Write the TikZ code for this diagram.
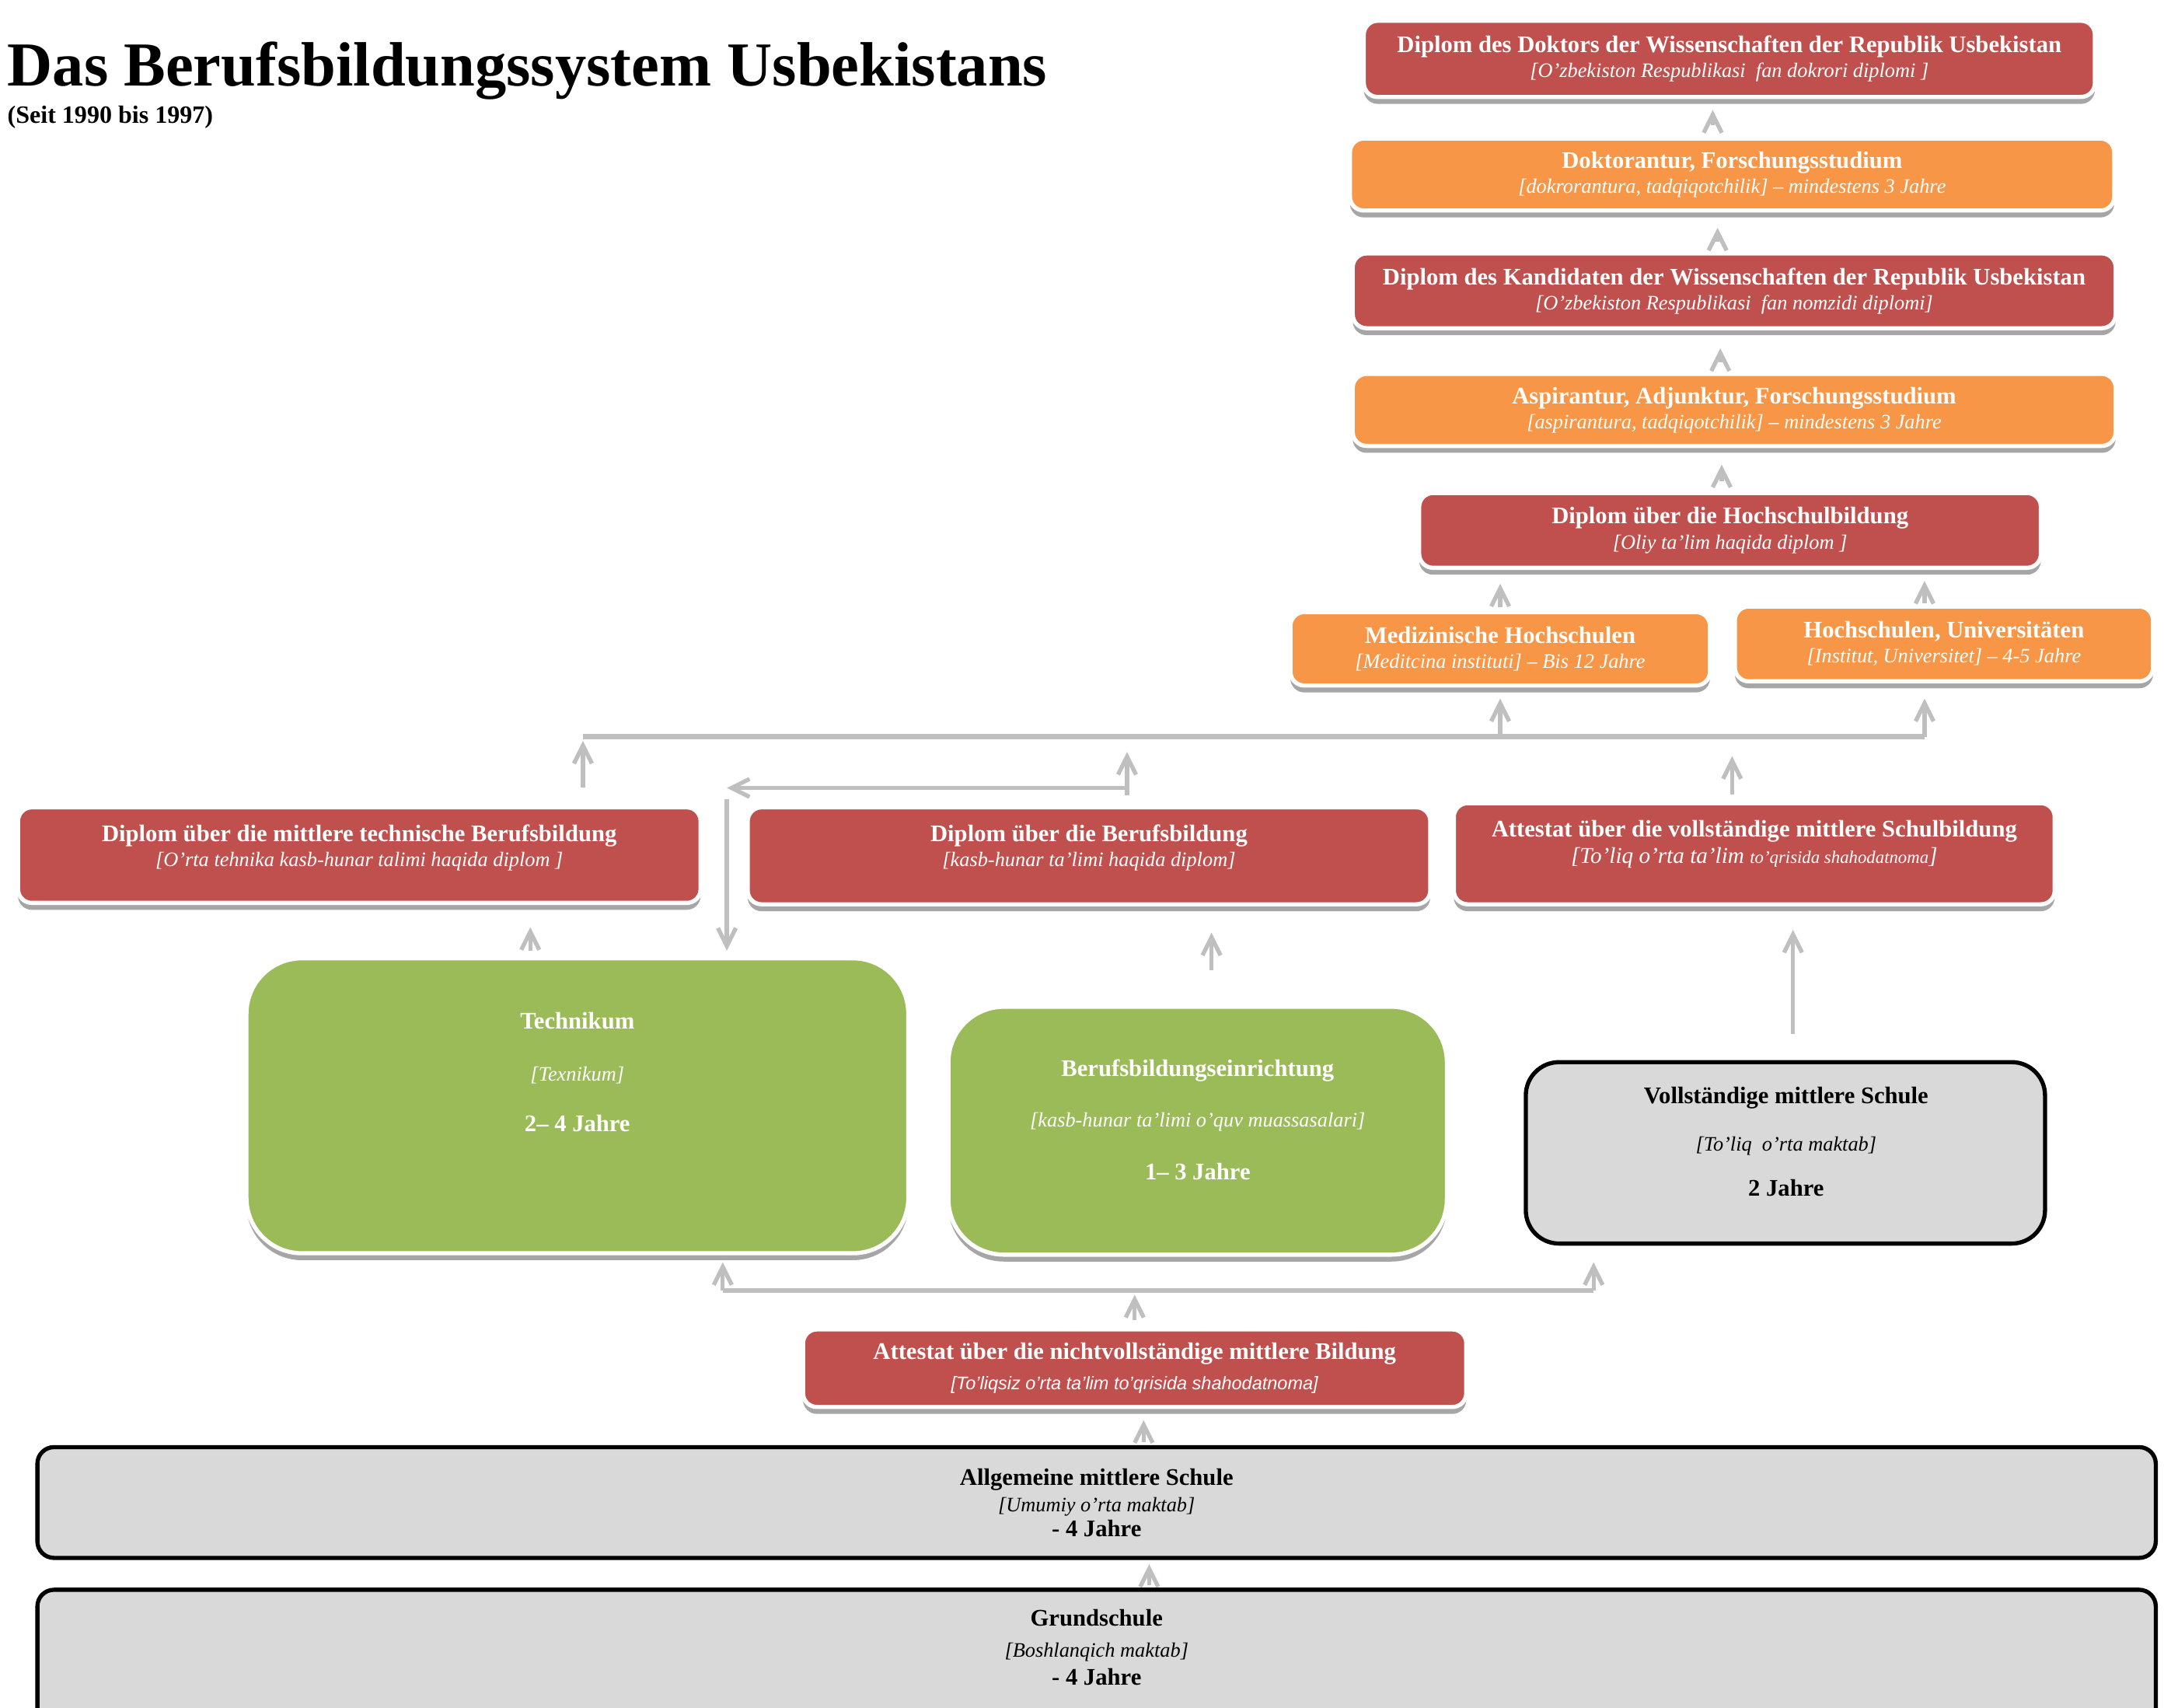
\documentclass[tikz,border=0pt]{standalone}
\usepackage{fontspec}
\setmainfont{Liberation Serif}
\newfontfamily\arialfont{Liberation Sans}
\usetikzlibrary{arrows.meta,shadows}

\definecolor{boxred}{HTML}{C0504D}
\definecolor{boxorange}{HTML}{F79646}
\definecolor{boxgreen}{HTML}{9BBB59}
\definecolor{boxgray}{HTML}{D9D9D9}
\definecolor{linegray}{HTML}{BFBFBF}
\definecolor{shadowgray}{HTML}{A6A6A6}

\newcommand{\uzb}[1]{{\fontsize{7.4}{9}\selectfont\mdseries\itshape #1}}

\tikzset{
	boxsize/.style 2 args={minimum width=#1*0.5pt, minimum height=#2*0.5pt},
	colbox/.style={rectangle, rounded corners=5pt, draw=white, line width=1.5pt,
		inner sep=0pt, align=center, text=white,
		font=\fontsize{8.6}{9}\selectfont\bfseries,
		drop shadow={shadow xshift=0pt, shadow yshift=-2.5pt, opacity=1, fill=shadowgray}},
	redbox/.style={colbox, fill=boxred},
	orangebox/.style={colbox, fill=boxorange},
	greenbox/.style={colbox, fill=boxgreen, rounded corners=20pt},
	graybox/.style={rectangle, rounded corners=6pt, draw=black, line width=1.5pt,
		fill=boxgray, inner sep=0pt, align=center,
		font=\fontsize{8.6}{9}\selectfont\bfseries},
	boxtext/.style={inner sep=0pt, align=center, font=\fontsize{8.6}{9}\selectfont\bfseries},
	arr/.style={draw=linegray, line width=1.5pt, -{Straight Barb[length=6.5pt,width=6.5pt]}},
	bus/.style={draw=linegray, line width=1.8pt},
}

\begin{document}
\begin{tikzpicture}[x=0.5pt, y=-0.5pt]
		\path[use as bounding box, fill=white] (0,0) rectangle (1568,1233);

		\node[anchor=base west, inner sep=0pt, font=\fontsize{22.6}{26}\selectfont\bfseries] (title) at (5,62) {Das Berufsbildungssystem Usbekistans};
		\node[anchor=base west, inner sep=0pt, font=\fontsize{9}{10}\selectfont\bfseries] (subtitle) at (5,89) {(Seit 1990 bis 1997)};

		% Hochschule und Forschung
		\node[redbox, boxsize={528}{55}] (doktor) at (1249,42.5) {Diplom des Doktors der Wissenschaften der Republik Usbekistan\\ \uzb{[O’zbekiston Respublikasi\ \ fan dokrori diplomi ]}};
		\node[orangebox, boxsize={552}{52}] (doktorantur) at (1251,126) {Doktorantur, Forschungsstudium\\ \uzb{[dokrorantura, tadqiqotchilik] – mindestens 3 Jahre}};
		\node[redbox, boxsize={551}{54}] (kandidat) at (1252.5,210) {Diplom des Kandidaten der Wissenschaften der Republik Usbekistan\\ \uzb{[O’zbekiston Respublikasi\ \ fan nomzidi diplomi]}};
		\node[orangebox, boxsize={551}{52}] (aspirantur) at (1252.5,296) {Aspirantur, Adjunktur, Forschungsstudium\\ \uzb{[aspirantura, tadqiqotchilik] – mindestens 3 Jahre}};
		\node[redbox, boxsize={449}{54}] (hsdiplom) at (1249.5,383) {Diplom über die Hochschulbildung\\ \uzb{[Oliy ta’lim haqida diplom ]}};
		\node[orangebox, boxsize={303}{53}] (medizin) at (1083.5,468.5) {Medizinische Hochschulen\\ \uzb{[Meditcina instituti] – Bis 12 Jahre}};
		\node[orangebox, boxsize={302}{54}] (hochschulen) at (1404,465) {Hochschulen, Universitäten\\ \uzb{[Institut, Universitet] – 4-5 Jahre}};

		% Abschluesse
		\node[redbox, boxsize={493}{69}] (techdiplom) at (259.5,617.5) {};
		\node[boxtext, text=white] (techdiplomtext) at (259.5,612) {Diplom über die mittlere technische Berufsbildung\\ \uzb{[O’rta tehnika kasb-hunar talimi haqida diplom ]}};
		\node[redbox, boxsize={493}{70}] (bbdiplom) at (786.5,618) {};
		\node[boxtext, text=white] (bbdiplomtext) at (786.5,612) {Diplom über die Berufsbildung\\ \uzb{[kasb-hunar ta’limi haqida diplom]}};
		\node[redbox, boxsize={434}{73}] (attvoll) at (1267,616.5) {};
		\node[boxtext, text=white] (attvolltext) at (1267,609.5) {Attestat über die vollständige mittlere Schulbildung\\[0.5pt] {\fontsize{8.2}{9}\selectfont\mdseries\itshape [To’liq o’rta ta’lim {\fontsize{6.4}{9}\selectfont to’qrisida shahodatnoma}]}};

		% Schulen
		\node[greenbox, boxsize={478}{213}] (technikum) at (417,798.5) {};
		\node[boxtext, text=white] (technikumtext) at (417,774) {Technikum\\[10pt]\uzb{[Texnikum]}\\[9pt]2– 4 Jahre};
		\node[greenbox, boxsize={360}{179}] (bbeinr) at (865,816.5) {};
		\node[boxtext, text=white] (bbeinrtext) at (865,808.5) {Berufsbildungseinrichtung\\[9.5pt]\uzb{[kasb-hunar ta’limi o’quv muassasalari]}\\[10pt]1– 3 Jahre};
		\node[graybox, rounded corners=12pt, boxsize={375}{131}] (vollschule) at (1289.5,832.5) {};
		\node[boxtext] (vollschuletext) at (1290,824.5) {Vollständige mittlere Schule\\[8pt]\uzb{[To’liq\ \ o’rta maktab]}\\[7.5pt]2 Jahre};

		\node[redbox, boxsize={479}{56}] (attnicht) at (819.5,988) {Attestat über die nichtvollständige mittlere Bildung\\[2pt] {\arialfont\fontsize{6.6}{9}\selectfont\mdseries\itshape [To’liqsiz o’rta ta’lim to’qrisida shahodatnoma]}};
		\node[graybox, boxsize={1530}{80}] (allgemein) at (792,1085) {Allgemeine mittlere Schule\\[0.5pt]\uzb{[Umumiy o’rta maktab]}\\- 4 Jahre};
		\node[graybox, boxsize={1530}{112}] (grundschule) at (792,1204) {};
		\node[boxtext] (grundschuletext) at (792,1189.5) {Grundschule\\[2.5pt]\uzb{[Boshlanqich maktab]}\\[1pt]- 4 Jahre};

		% Verbindungen oben
		\draw[arr, shorten <=4pt, shorten >=4pt] ([xshift=-7pt]doktorantur.north) -- ([xshift=-7pt]doktorantur.north |- doktor.south);
		\draw[arr, shorten <=3.5pt, shorten >=5.5pt] ([xshift=-6pt]kandidat.north) -- ([xshift=-6pt]kandidat.north |- doktorantur.south);
		\draw[arr, shorten <=3.5pt, shorten >=6.5pt] ([xshift=-5pt]aspirantur.north) -- ([xshift=-5pt]aspirantur.north |- kandidat.south);
		\draw[arr, shorten <=3.5pt, shorten >=6pt] ([xshift=-3pt]hsdiplom.north) -- ([xshift=-3pt]hsdiplom.north |- aspirantur.south);
		\draw[arr, shorten <=1pt, shorten >=5pt] (medizin.north) -- (medizin.north |- hsdiplom.south);
		\draw[arr, shorten <=0.5pt, shorten >=4pt] ([xshift=-7pt]hochschulen.north) -- ([xshift=-7pt]hochschulen.north |- hsdiplom.south);

		\coordinate (busl) at (421,532);
		\coordinate (busr) at (1390,532);
		\draw[bus] (busl) -- (busr);
		\draw[arr, shorten >=4pt] (busl -| medizin.south) -- (medizin.south);
		\draw[arr, shorten >=5.5pt] (busr) -- (hochschulen.south -| busr);

		\draw[arr, shorten <=6.5pt, shorten >=1.5pt] (techdiplom.north -| busl) -- (busl);
		\coordinate (bbfork) at (814,569);
		\coordinate (techin) at (525,569);
		\draw[arr, shorten <=3.5pt, shorten >=5.5pt] (bbdiplom.north -| bbfork) -- (busl -| bbfork);
		\draw[arr] (bbfork) -- (techin);
		\draw[arr, shorten <=4pt, shorten >=2pt] (techin) -- (technikum.north -| techin);
		\draw[arr, shorten <=2.5pt, shorten >=7pt] ([xshift=-8pt]attvoll.north) -- ([xshift=-8pt]attvoll.north |- busl);

		% Verbindungen Mitte
		\draw[arr, shorten <=2pt, shorten >=8pt] ([xshift=-17pt]technikum.north) -- ([xshift=-17pt]technikum.north |- techdiplom.south);
		\draw[arr, shorten <=12.5pt, shorten >=9.5pt] ([xshift=5pt]bbeinr.north) -- ([xshift=5pt]bbeinr.north |- bbdiplom.south);
		\draw[arr, shorten <=9.5pt, shorten >=8.5pt] ([xshift=2.75pt]vollschule.north) -- ([xshift=2.75pt]vollschule.north |- attvoll.south);

		% Verbindungen unten
		\coordinate (lowl) at (522,932);
		\coordinate (lowr) at (1151,932);
		\draw[bus] (lowl) -- (lowr);
		\draw[arr, shorten >=2.5pt] (lowl) -- (technikum.south -| lowl);
		\draw[arr, shorten >=6pt] (lowr) -- (vollschule.south -| lowr);
		\draw[arr, shorten <=2.5pt, shorten >=1.5pt] (attnicht.north) -- (attnicht.north |- lowl);
		\draw[arr, shorten <=1pt, shorten >=4pt] ([xshift=3.25pt]attnicht.south |- allgemein.north) -- ([xshift=3.25pt]attnicht.south);
		\draw[arr, shorten <=1pt, shorten >=1.5pt] ([xshift=19pt]grundschule.north) -- ([xshift=19pt]grundschule.north |- allgemein.south);
	\end{tikzpicture}
\end{document}
